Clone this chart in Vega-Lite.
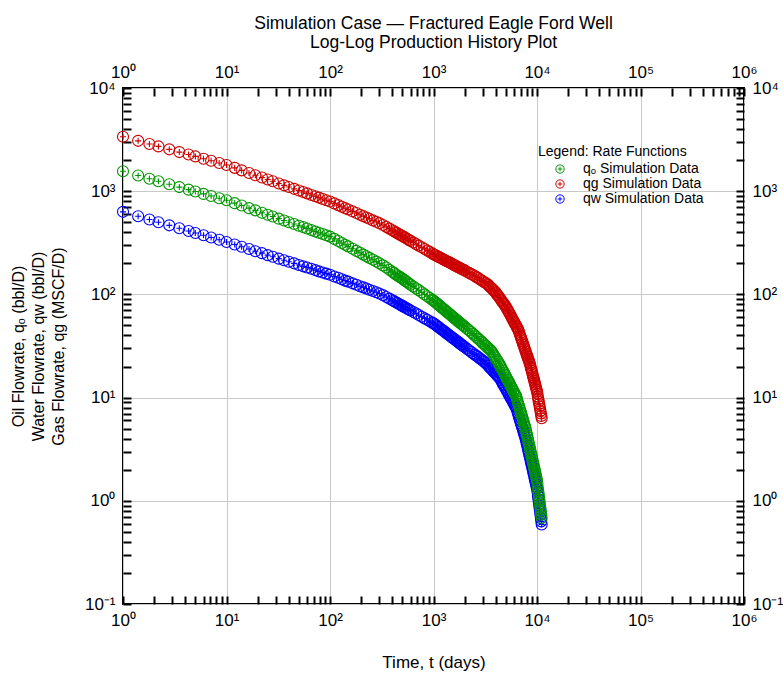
{
"$schema": "https://vega.github.io/schema/vega-lite/v6.json",
"width": 621, "height": 516,
"autosize": "none",
"padding": {"left": 123, "top": 88, "right": 39, "bottom": 77},
"background": "white",
"title": {"text": ["Simulation Case — Fractured Eagle Ford Well", "Log-Log Production History Plot"], "anchor": "middle", "font": "Liberation Sans, Arial", "fontSize": 17.5, "fontWeight": "normal", "color": "black", "offset": 12, "lineHeight": 19},
"datasets": {
"rates": [
{"t":1,"qo":1560,"qg":3373,"qw":631},{"t":1.4,"qo":1419,"qg":3076,"qw":571},{"t":1.8,"qo":1321,"qg":2871,"qw":532},{"t":2.2,"qo":1250,"qg":2716,"qw":501},{"t":2.8,"qo":1167,"qg":2545,"qw":467},{"t":3.5,"qo":1096,"qg":2393,"qw":438},{"t":4.3,"qo":1035,"qg":2265,"qw":412},{"t":5,"qo":993,"qg":2173,"qw":394},{"t":6,"qo":942,"qg":2065,"qw":374},{"t":7.1,"qo":899,"qg":1972,"qw":356},{"t":8.5,"qo":855,"qg":1875,"qw":338},{"t":10,"qo":817,"qg":1795,"qw":322},
{"t":12,"qo":766,"qg":1683,"qw":304},{"t":14,"qo":726,"qg":1592,"qw":290},{"t":16.5,"qo":685,"qg":1503,"qw":275},{"t":19,"qo":652,"qg":1429,"qw":262},{"t":22,"qo":619,"qg":1358,"qw":251},{"t":25,"qo":592,"qg":1297,"qw":240},{"t":28,"qo":569,"qg":1247,"qw":232},{"t":32,"qo":542,"qg":1189,"qw":222},{"t":36,"qo":520,"qg":1140,"qw":214},{"t":40,"qo":501,"qg":1099,"qw":207},{"t":45,"qo":481,"qg":1054,"qw":200},{"t":50,"qo":463,"qg":1016,"qw":193},{"t":55,"qo":449,"qg":982,"qw":187},{"t":60,"qo":435,"qg":953,"qw":182},{"t":66,"qo":420,"qg":920,"qw":177},{"t":72,"qo":407,"qg":893,"qw":172},{"t":78,"qo":396,"qg":867,"qw":167},{"t":85,"qo":385,"qg":841,"qw":163},{"t":92,"qo":374,"qg":818,"qw":159},
{"t":100,"qo":363,"qg":794,"qw":155},{"t":110,"qo":345,"qg":762,"qw":149},{"t":120,"qo":329,"qg":733,"qw":145},{"t":130,"qo":315,"qg":708,"qw":140},{"t":140,"qo":303,"qg":685,"qw":136},{"t":150,"qo":292,"qg":665,"qw":133},{"t":165,"qo":277,"qg":638,"qw":128},{"t":180,"qo":264,"qg":614,"qw":124},{"t":195,"qo":253,"qg":592,"qw":120},{"t":210,"qo":243,"qg":573,"qw":117},{"t":225,"qo":234,"qg":556,"qw":114},{"t":240,"qo":226,"qg":541,"qw":111},{"t":260,"qo":217,"qg":521,"qw":108},{"t":280,"qo":208,"qg":505,"qw":105},{"t":300,"qo":200,"qg":490,"qw":102},{"t":325,"qo":191,"qg":471,"qw":98.4},{"t":350,"qo":182,"qg":451,"qw":94.4},{"t":375,"qo":173,"qg":434,"qw":91.0},{"t":400,"qo":166,"qg":418,"qw":87.7},{"t":415,"qo":161.5,"qg":409.5,"qw":86.0},{"t":430,"qo":157,"qg":401,"qw":84.3},{"t":445,"qo":153.5,"qg":393,"qw":82.7},{"t":460,"qo":150,"qg":385,"qw":81.1},{"t":475,"qo":147,"qg":378.5,"qw":79.7},{"t":490,"qo":144,"qg":372,"qw":78.3},{"t":505,"qo":141,"qg":365.5,"qw":77.0},{"t":520,"qo":138,"qg":359,"qw":75.7},{"t":540,"qo":134.5,"qg":351.5,"qw":74.1},{"t":560,"qo":131,"qg":344,"qw":72.6},{"t":580,"qo":127.5,"qg":337,"qw":71.2},{"t":600,"qo":124,"qg":330,"qw":69.8},{"t":640,"qo":119,"qg":318,"qw":67.5},{"t":680,"qo":114,"qg":307,"qw":65.2},{"t":720,"qo":110,"qg":297,"qw":63.1},{"t":770,"qo":105,"qg":286,"qw":60.8},{"t":820,"qo":100,"qg":275,"qw":58.6},{"t":870,"qo":95.9,"qg":266,"qw":56.8},{"t":920,"qo":92.3,"qg":258,"qw":55.0},{"t":970,"qo":88.9,"qg":250,"qw":53.3},
{"t":1000,"qo":87.1,"qg":245,"qw":52.5},{"t":1030,"qo":85.0,"qg":241.5,"qw":51.3},{"t":1060,"qo":83.0,"qg":238,"qw":50.2},{"t":1090,"qo":81.1,"qg":234.5,"qw":49.2},{"t":1120,"qo":79.2,"qg":231,"qw":48.2},{"t":1155,"qo":77.2,"qg":227.5,"qw":47.0},{"t":1190,"qo":75.2,"qg":224,"qw":45.9},{"t":1225,"qo":73.5,"qg":220.5,"qw":45.0},{"t":1260,"qo":71.8,"qg":217,"qw":44.1},{"t":1295,"qo":70.1,"qg":214,"qw":43.1},{"t":1330,"qo":68.5,"qg":211,"qw":42.2},{"t":1365,"qo":67.0,"qg":208.5,"qw":41.4},{"t":1400,"qo":65.6,"qg":206,"qw":40.6},{"t":1440,"qo":64.1,"qg":203,"qw":39.7},{"t":1480,"qo":62.7,"qg":200,"qw":38.9},{"t":1520,"qo":61.2,"qg":197,"qw":38.1},{"t":1560,"qo":59.8,"qg":194,"qw":37.4},{"t":1600,"qo":58.6,"qg":191.5,"qw":36.7},{"t":1640,"qo":57.4,"qg":189,"qw":36.0},{"t":1680,"qo":56.2,"qg":186.5,"qw":35.3},{"t":1720,"qo":55.1,"qg":184,"qw":34.7},{"t":1760,"qo":54.1,"qg":182,"qw":34.1},{"t":1800,"qo":53.1,"qg":180,"qw":33.5},{"t":1850,"qo":51.9,"qg":177.5,"qw":32.8},{"t":1900,"qo":50.7,"qg":175,"qw":32.1},{"t":1950,"qo":49.6,"qg":173,"qw":31.5},{"t":2000,"qo":48.6,"qg":171,"qw":30.9},
{"t":2100,"qo":46.7,"qg":166,"qw":29.8},{"t":2200,"qo":44.9,"qg":162,"qw":28.8},{"t":2300,"qo":43.2,"qg":158,"qw":27.8},{"t":2400,"qo":41.7,"qg":155,"qw":26.9},{"t":2500,"qo":40.1,"qg":151,"qw":26.1},{"t":2600,"qo":38.6,"qg":147,"qw":25.4},{"t":2700,"qo":37.3,"qg":144,"qw":24.7},{"t":2800,"qo":36.1,"qg":140,"qw":24.0},{"t":2900,"qo":34.9,"qg":137,"qw":23.4},{"t":3000,"qo":33.7,"qg":134,"qw":22.8},
{"t":3100,"qo":32.7,"qg":131,"qw":22.2},{"t":3200,"qo":31.8,"qg":129,"qw":21.6},{"t":3300,"qo":30.8,"qg":126,"qw":20.9},{"t":3400,"qo":30.0,"qg":123,"qw":20.3},{"t":3500,"qo":29.2,"qg":119,"qw":19.6},{"t":3600,"qo":28.4,"qg":116,"qw":19.1},{"t":3700,"qo":27.4,"qg":113,"qw":18.5},{"t":3800,"qo":26.2,"qg":110,"qw":17.9},{"t":3900,"qo":25.1,"qg":107,"qw":17.5},{"t":4000,"qo":24.1,"qg":104,"qw":17.0},
{"t":4100,"qo":23.1,"qg":100,"qw":16.6},{"t":4200,"qo":22.3,"qg":97.3,"qw":16.1},{"t":4300,"qo":21.4,"qg":94.2,"qw":15.7},{"t":4400,"qo":20.6,"qg":91.2,"qw":15.3},{"t":4500,"qo":19.7,"qg":88.3,"qw":14.7},{"t":4600,"qo":18.8,"qg":85.5,"qw":14.1},{"t":4700,"qo":18.1,"qg":83.0,"qw":13.5},{"t":4800,"qo":17.4,"qg":80.7,"qw":13.1},{"t":4900,"qo":16.7,"qg":78.3,"qw":12.6},{"t":5000,"qo":16.1,"qg":76.0,"qw":12.1},
{"t":5100,"qo":15.4,"qg":73.3,"qw":11.7},{"t":5200,"qo":14.9,"qg":70.8,"qw":11.3},{"t":5300,"qo":14.4,"qg":68.4,"qw":10.9},{"t":5400,"qo":13.9,"qg":66.1,"qw":10.5},{"t":5500,"qo":13.4,"qg":63.8,"qw":10.2},{"t":5600,"qo":12.9,"qg":61.7,"qw":9.87},{"t":5700,"qo":12.4,"qg":59.6,"qw":9.55},{"t":5800,"qo":12.1,"qg":57.8,"qw":9.27},{"t":5900,"qo":11.6,"qg":55.8,"qw":8.97},{"t":6000,"qo":11.3,"qg":54.2,"qw":8.71},
{"t":6100,"qo":10.9,"qg":52.6,"qw":8.45},{"t":6200,"qo":10.6,"qg":51.1,"qw":8.20},{"t":6300,"qo":10.3,"qg":49.4,"qw":7.98},{"t":6400,"qo":9.75,"qg":48.0,"qw":7.59},{"t":6500,"qo":9.23,"qg":46.6,"qw":7.19},{"t":6600,"qo":8.73,"qg":45.2,"qw":6.81},{"t":6700,"qo":8.32,"qg":43.4,"qw":6.50},{"t":6800,"qo":7.87,"qg":41.4,"qw":6.17},{"t":6900,"qo":7.52,"qg":39.7,"qw":5.89},{"t":7000,"qo":7.16,"qg":38.1,"qw":5.62},
{"t":7100,"qo":6.82,"qg":36.6,"qw":5.37},{"t":7200,"qo":6.51,"qg":35.2,"qw":5.13},{"t":7300,"qo":6.21,"qg":33.7,"qw":4.90},{"t":7400,"qo":5.92,"qg":32.4,"qw":4.68},{"t":7500,"qo":5.65,"qg":31.1,"qw":4.47},{"t":7600,"qo":5.38,"qg":29.9,"qw":4.27},{"t":7700,"qo":5.18,"qg":28.8,"qw":4.10},{"t":7800,"qo":4.91,"qg":27.7,"qw":3.90},{"t":7900,"qo":4.61,"qg":26.6,"qw":3.67},{"t":8000,"qo":4.38,"qg":25.7,"qw":3.49},
{"t":8100,"qo":4.15,"qg":24.8,"qw":3.32},{"t":8200,"qo":3.90,"qg":23.9,"qw":3.13},{"t":8300,"qo":3.70,"qg":23.1,"qw":2.97},{"t":8400,"qo":3.51,"qg":22.3,"qw":2.83},{"t":8500,"qo":3.33,"qg":21.5,"qw":2.69},{"t":8600,"qo":3.16,"qg":20.7,"qw":2.56},{"t":8700,"qo":2.97,"qg":19.5,"qw":2.41},{"t":8800,"qo":2.85,"qg":18.9,"qw":2.31},{"t":8900,"qo":2.70,"qg":18.1,"qw":2.20},{"t":9000,"qo":2.56,"qg":17.3,"qw":2.09},
{"t":9100,"qo":2.43,"qg":16.5,"qw":1.99},{"t":9200,"qo":2.31,"qg":15.8,"qw":1.89},{"t":9300,"qo":2.21,"qg":15.2,"qw":1.82},{"t":9400,"qo":2.10,"qg":14.6,"qw":1.73},{"t":9500,"qo":2.00,"qg":14.0,"qw":1.64},{"t":9600,"qo":1.91,"qg":13.5,"qw":1.58},{"t":9700,"qo":1.82,"qg":12.9,"qw":1.50},{"t":9800,"qo":1.74,"qg":12.4,"qw":1.44},{"t":9900,"qo":1.65,"qg":11.9,"qw":1.37},{"t":10000,"qo":1.58,"qg":11.5,"qw":1.32},
{"t":10100,"qo":1.47,"qg":10.9,"qw":1.23},{"t":10200,"qo":1.34,"qg":10.2,"qw":1.12},{"t":10300,"qo":1.24,"qg":9.66,"qw":1.04},{"t":10400,"qo":1.15,"qg":9.16,"qw":0.973},{"t":10500,"qo":1.07,"qg":8.69,"qw":0.906},{"t":10600,"qo":0.99,"qg":8.24,"qw":0.842},{"t":10700,"qo":0.918,"qg":7.80,"qw":0.784},{"t":10800,"qo":0.853,"qg":7.40,"qw":0.730},{"t":10900,"qo":0.791,"qg":7.02,"qw":0.679},{"t":11000,"qo":0.733,"qg":6.65,"qw":0.632},{"t":11100,"qo":0.681,"qg":6.31,"qw":0.589}
]
},
"layer": [
 {"data": {"name": "rates"},
  "transform": [{"fold": ["qo", "qg", "qw"], "as": ["series", "q"]}],
  "mark": {"type": "point", "shape": "M-1,0A1,1 0 1,1 1,0A1,1 0 1,1 -1,0ZM-0.55,0L0.55,0M0,-0.55L0,0.55", "filled": false, "size": 121, "strokeWidth": 1.1, "opacity": 1},
  "encoding": {
   "x": {"field": "t", "type": "quantitative", "scale": {"type": "log", "domain": [1, 1000000]},
    "axis": {"orient": "bottom", "offset": -8, "domain": false,
     "values": [1,2,3,4,5,6,7,8,9,10,20,30,40,50,60,70,80,90,100,200,300,400,500,600,700,800,900,1000,2000,3000,4000,5000,6000,7000,8000,9000,10000,20000,30000,40000,50000,60000,70000,80000,90000,100000,200000,300000,400000,500000,600000,700000,800000,900000,1000000],
     "labelExpr": "indexof([1,10,100,1000,10000,100000,1000000], datum.value) >= 0 ? '10' + ['⁰','¹','²','³','⁴','⁵','⁶'][indexof([1,10,100,1000,10000,100000,1000000], datum.value)] : ''",
     "grid": true, "gridColor": "#c8c8c8", "gridWidth": 1,
     "gridOpacity": {"condition": {"test": "indexof([1,10,100,1000,10000,100000,1000000], datum.value) >= 0", "value": 1}, "value": 0},
     "ticks": true, "tickSize": 8, "labelPadding": 8,
     "title": "Time, t (days)", "titlePadding": 26, "titleFontSize": 17}},
   "y": {"field": "q", "type": "quantitative", "scale": {"type": "log", "domain": [0.1, 10000]},
    "axis": {"orient": "left", "offset": -8, "domain": false,
     "values": [0.1,0.2,0.3,0.4,0.5,0.6,0.7,0.8,0.9,1,2,3,4,5,6,7,8,9,10,20,30,40,50,60,70,80,90,100,200,300,400,500,600,700,800,900,1000,2000,3000,4000,5000,6000,7000,8000,9000,10000],
     "labelExpr": "indexof([0.1,1,10,100,1000,10000], datum.value) >= 0 ? '10' + ['⁻¹','⁰','¹','²','³','⁴'][indexof([0.1,1,10,100,1000,10000], datum.value)] : ''",
     "grid": true, "gridColor": "#c8c8c8", "gridWidth": 1,
     "gridOpacity": {"condition": {"test": "indexof([0.1,1,10,100,1000,10000], datum.value) >= 0", "value": 1}, "value": 0},
     "ticks": true, "tickSize": 8, "labelPadding": 8,
     "title": ["Oil Flowrate, qₒ (bbl/D)", "Water Flowrate, qw (bbl/D)", "Gas Flowrate, qg (MSCF/D)"], "titlePadding": 18,
     "titleFont": "Liberation Sans, Arial", "titleFontSize": 16, "titleLineHeight": 20}},
   "color": {"field": "series", "type": "nominal",
    "scale": {"domain": ["qo", "qg", "qw"], "range": ["#009600", "#cc0000", "#0000ff"]},
    "legend": {"orient": "none", "legendX": 415, "legendY": 57, "title": "Legend: Rate Functions",
     "titleFont": "Liberation Sans, Arial", "titleFontSize": 14, "titleFontWeight": "normal", "titleColor": "black",
     "labelFont": "Liberation Sans, Arial", "labelFontSize": 14, "labelColor": "black",
     "labelExpr": "datum.label == 'qo' ? 'qₒ Simulation Data' : datum.label == 'qg' ? 'qg Simulation Data' : 'qw Simulation Data'",
     "symbolSize": 70, "symbolStrokeWidth": 1, "symbolOffset": 15, "labelOffset": 16, "rowPadding": 1, "titlePadding": 3}},
   "order": {"field": "series", "sort": "descending"}
  }},
 {"data": {"name": "rates"},
  "transform": [{"fold": ["qo", "qg", "qw"], "as": ["series", "q"]}],
  "mark": {"type": "point", "opacity": 0},
  "encoding": {
   "x": {"field": "t", "type": "quantitative", "scale": {"type": "log", "domain": [1, 1000000]},
    "axis": {"orient": "top", "offset": -8, "domain": false,
     "values": [1,2,3,4,5,6,7,8,9,10,20,30,40,50,60,70,80,90,100,200,300,400,500,600,700,800,900,1000,2000,3000,4000,5000,6000,7000,8000,9000,10000,20000,30000,40000,50000,60000,70000,80000,90000,100000,200000,300000,400000,500000,600000,700000,800000,900000,1000000],
     "labelExpr": "indexof([1,10,100,1000,10000,100000,1000000], datum.value) >= 0 ? '10' + ['⁰','¹','²','³','⁴','⁵','⁶'][indexof([1,10,100,1000,10000,100000,1000000], datum.value)] : ''",
     "grid": false, "ticks": true, "tickSize": 8, "labelPadding": 7, "title": null}},
   "y": {"field": "q", "type": "quantitative", "scale": {"type": "log", "domain": [0.1, 10000]},
    "axis": {"orient": "right", "offset": -8, "domain": false,
     "values": [0.1,0.2,0.3,0.4,0.5,0.6,0.7,0.8,0.9,1,2,3,4,5,6,7,8,9,10,20,30,40,50,60,70,80,90,100,200,300,400,500,600,700,800,900,1000,2000,3000,4000,5000,6000,7000,8000,9000,10000],
     "labelExpr": "indexof([0.1,1,10,100,1000,10000], datum.value) >= 0 ? '10' + ['⁻¹','⁰','¹','²','³','⁴'][indexof([0.1,1,10,100,1000,10000], datum.value)] : ''",
     "grid": false, "ticks": true, "tickSize": 8, "labelPadding": 8, "title": null}}
  }}
],
"resolve": {"axis": {"x": "independent", "y": "independent"}},
"config": {
 "view": {"stroke": "black", "strokeWidth": 2},
 "axis": {"tickColor": "black", "tickWidth": 2, "labelColor": "black",
  "labelFont": "Liberation Sans, Arial", "labelFontSize": 17, "labelOverlap": false, "labelFlush": false, "labelBound": false,
  "titleFont": "Liberation Sans, Arial", "titleFontSize": 16, "titleFontWeight": "normal", "titleColor": "black"}
}
}
